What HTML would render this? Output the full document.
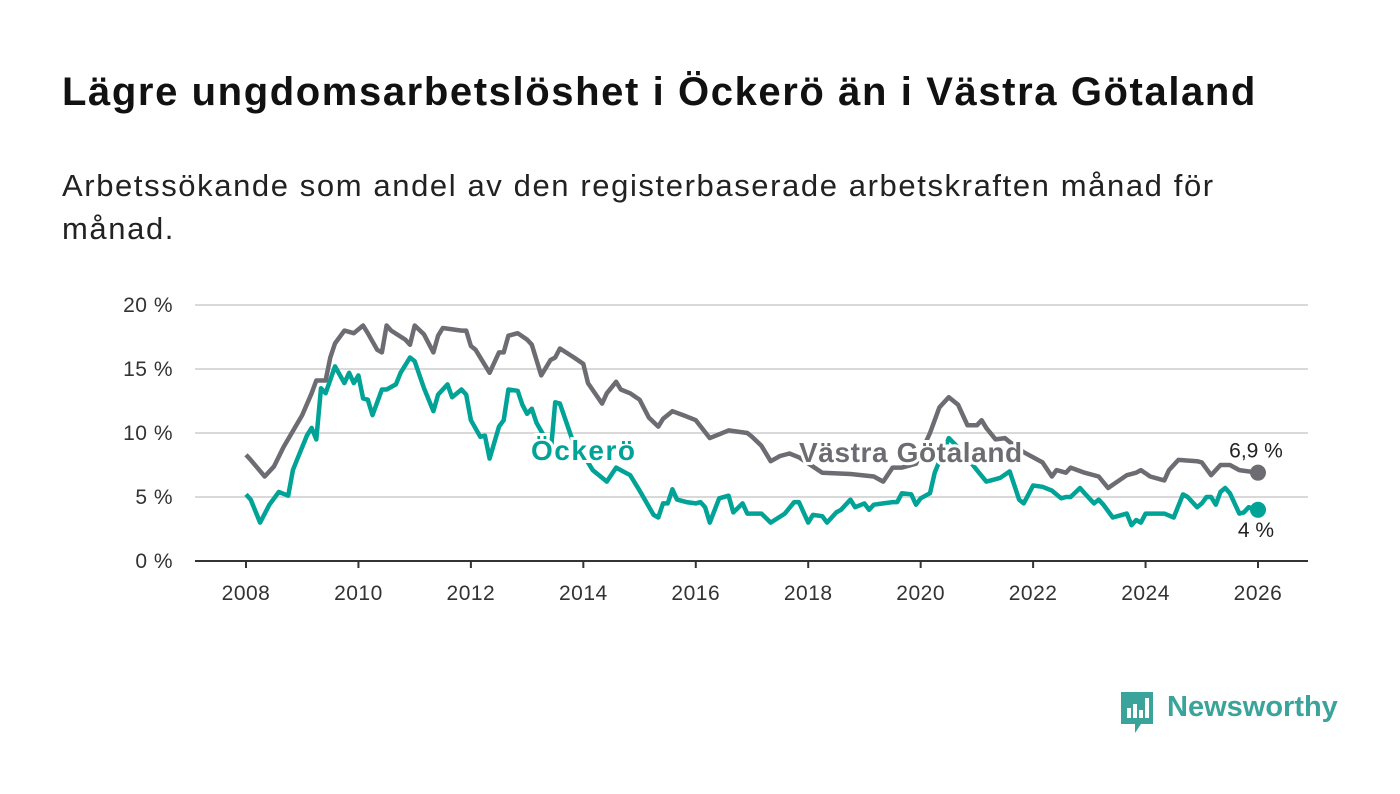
<!DOCTYPE html>
<html><head><meta charset="utf-8"><style>
body{margin:0;width:1400px;height:794px;background:#fff;font-family:"Liberation Sans",sans-serif;overflow:hidden}
h1{position:absolute;left:62px;top:70px;margin:0;font-size:40px;letter-spacing:1.6px;font-weight:bold;color:#111;white-space:nowrap}
.sub{position:absolute;left:62px;top:164px;width:1190px;font-size:31px;letter-spacing:1.6px;line-height:43px;color:#222}
svg{position:absolute;left:0;top:0}
</style></head><body>
<h1>Lägre ungdomsarbetslöshet i Öckerö än i Västra Götaland</h1>
<div class="sub">Arbetssökande som andel av den registerbaserade arbetskraften månad för månad.</div>
<svg id="c" width="1400" height="794"></svg>
<script>
const yTicks=[0,5,10,15,20];
const yTickLabels=["0 %","5 %","10 %","15 %","20 %"];
const xTicks=[2008,2010,2012,2014,2016,2018,2020,2022,2024,2026];
const vgMonths=[0,1,4,6,8,12,14,15,17,18,19,21,23,25,26,28,29,30,31,34,35,36,38,40,41,42,46,47,48,49,52,54,55,56,57,58,60,61,63,65,66,67,70,72,73,76,77,79,80,82,84,86,88,89,91,94,96,99,101,103,107,108,110,112,114,116,118,123,129,134,136,138,140,143,146,148,150,152,154,156,157,158,160,162,163,166,170,172,173,175,176,179,182,184,188,190,191,193,196,197,199,203,204,206,208,210,212,216];
const vgValues=[8.3,7.9,6.6,7.4,8.9,11.4,13.1,14.1,14.1,15.9,17.0,18.0,17.8,18.4,17.8,16.5,16.3,18.4,18.0,17.3,16.9,18.4,17.7,16.3,17.6,18.2,18.0,18.0,16.8,16.5,14.7,16.3,16.3,17.6,17.7,17.8,17.3,16.9,14.5,15.7,15.9,16.6,15.9,15.4,13.9,12.3,13.1,14.0,13.4,13.1,12.6,11.2,10.5,11.1,11.7,11.3,11.0,9.6,9.9,10.2,10.0,9.7,9.0,7.8,8.2,8.4,8.1,6.9,6.8,6.6,6.2,7.3,7.3,7.6,10.0,12.0,12.8,12.2,10.6,10.6,11.0,10.4,9.5,9.6,9.3,8.5,7.7,6.6,7.1,6.9,7.3,6.9,6.6,5.7,6.7,6.9,7.1,6.6,6.3,7.1,7.9,7.8,7.7,6.7,7.5,7.5,7.1,6.9];
const ockMonths=[0,1,3,5,7,9,10,11,13,14,15,16,17,19,21,22,23,24,25,26,27,28,29,30,32,33,35,36,38,40,41,43,44,46,47,48,50,51,52,54,55,56,58,59,60,61,62,64,65,66,67,70,73,74,76,77,79,82,84,87,88,89,90,91,92,94,96,97,98,99,101,103,104,106,107,110,112,115,117,118,120,121,123,124,126,127,129,130,132,133,134,136,138,139,140,142,143,144,146,147,150,153,156,158,159,161,163,165,166,168,170,172,174,175,176,178,179,181,182,183,185,186,188,189,190,191,192,195,196,198,200,201,203,204,205,206,207,208,209,210,212,213,214,216];
const ockValues=[5.2,4.8,3.0,4.4,5.4,5.1,7.1,8.0,9.8,10.4,9.5,13.5,13.1,15.2,13.9,14.7,13.9,14.5,12.7,12.6,11.4,12.4,13.4,13.4,13.8,14.7,15.9,15.6,13.5,11.7,13.0,13.8,12.8,13.4,13.0,11.0,9.7,9.8,8.0,10.5,11.0,13.4,13.3,12.2,11.5,11.9,10.8,9.5,8.3,12.4,12.3,9.1,7.7,7.1,6.5,6.2,7.3,6.7,5.5,3.6,3.4,4.5,4.5,5.6,4.8,4.6,4.5,4.6,4.2,3.0,4.9,5.1,3.8,4.5,3.7,3.7,3.0,3.7,4.6,4.6,3.0,3.6,3.5,3.0,3.8,4.0,4.8,4.2,4.5,4.0,4.4,4.5,4.6,4.6,5.3,5.2,4.4,4.9,5.3,6.9,9.6,8.5,7.1,6.2,6.3,6.5,7.0,4.8,4.5,5.9,5.8,5.5,4.9,5.0,5.0,5.7,5.3,4.5,4.8,4.4,3.4,3.5,3.7,2.8,3.2,3.0,3.7,3.7,3.7,3.4,5.2,5.0,4.2,4.5,5.0,5.0,4.4,5.4,5.7,5.3,3.7,3.8,4.2,4.0];
const NS='http://www.w3.org/2000/svg';
const svg=document.getElementById('c');
const X=m=>246+m*(1258-246)/216;
const XY=y=>X((y-2008)*12);
const Y=v=>561-v*12.8;
function el(t,a,txt){const e=document.createElementNS(NS,t);for(const k in a)e.setAttribute(k,a[k]);if(txt!==undefined)e.textContent=txt;svg.appendChild(e);return e;}
yTicks.forEach((v,i)=>{
 if(v>0){const g=el('line',{x1:195,x2:1308,y1:Y(v),y2:Y(v),stroke:'#d9d9d9','stroke-width':2});
 
 }
 const t=el('text',{x:173,y:Y(v)+7,'text-anchor':'end','font-size':21,'letter-spacing':0.5,fill:'#333'},yTickLabels[i]);
 
 
});
const ax=el('line',{x1:195,x2:1308,y1:561,y2:561,stroke:'#333','stroke-width':2});


xTicks.forEach(yr=>{
 const tk=el('line',{x1:XY(yr),x2:XY(yr),y1:561,y2:568,stroke:'#333','stroke-width':2});
 
 
 const t=el('text',{x:XY(yr),y:600,'text-anchor':'middle','font-size':21,'letter-spacing':0.5,fill:'#333'},yr);
 
 
});
function line(ms,vs,col,name){
 const d=ms.map((m,i)=>(i?'L':'M')+X(m).toFixed(1)+','+Y(vs[i]).toFixed(1)).join('');
 const p=el('path',{d:d,fill:'none',stroke:col,'stroke-width':4.5,'stroke-linejoin':'round'});
 
 
}
line(vgMonths,vgValues,'#6d6c72','line-vastra-gotaland');
line(ockMonths,ockValues,'#00a396','line-ockero');
const lv=vgValues.length-1,lo=ockValues.length-1;
const d1=el('circle',{cx:X(vgMonths[lv]),cy:Y(vgValues[lv]),r:8,fill:'#6d6c72'});


const d2=el('circle',{cx:X(ockMonths[lo]),cy:Y(ockValues[lo]),r:8,fill:'#00a396'});


const e1=el('text',{x:1256,y:Y(vgValues[lv])-15,'text-anchor':'middle','font-size':21,fill:'#222',stroke:'#fff','stroke-width':5,'paint-order':'stroke'},'6,9 %');


const e2=el('text',{x:1256,y:Y(ockValues[lo])+27,'text-anchor':'middle','font-size':21,fill:'#222',stroke:'#fff','stroke-width':5,'paint-order':'stroke'},'4 %');


const s1=el('text',{x:531,y:460,'font-size':28,'letter-spacing':1.5,'font-weight':'bold',fill:'#00a396',stroke:'#fff','stroke-width':6,'paint-order':'stroke'},'Öckerö');


const s2=el('text',{x:799,y:462,'font-size':28,'letter-spacing':0.6,'font-weight':'bold',fill:'#6d6c72',stroke:'#fff','stroke-width':6,'paint-order':'stroke'},'Västra Götaland');


</script>
<div style="position:absolute;left:1119px;top:690px;height:46px;">
<svg width="36" height="46" style="position:absolute;left:0;top:0"><path d="M2 2h32v32H22l-6 9v-9H2z" fill="#3aa39a"/><rect x="8" y="18" width="4" height="10" fill="#fff"/><rect x="14" y="14" width="4" height="14" fill="#fff"/><rect x="20" y="20" width="4" height="8" fill="#fff"/><rect x="26" y="8" width="4" height="20" fill="#fff"/></svg>
<span style="position:absolute;left:48px;top:1px;font-size:29px;font-weight:bold;color:#3aa39a;white-space:nowrap">Newsworthy</span>
</div>
</body></html>
